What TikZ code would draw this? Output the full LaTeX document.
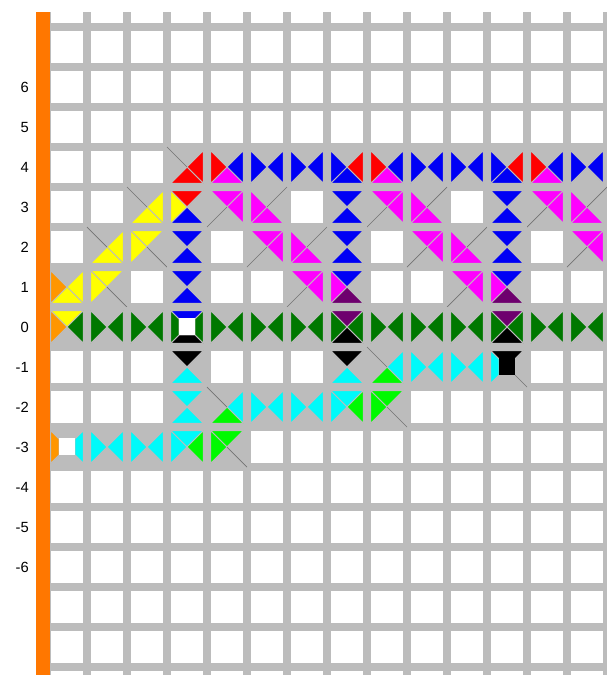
\documentclass[tikz,border=0pt]{standalone}
\usepackage{fontspec}
\setmainfont{Liberation Sans}

\definecolor{tilegrey}{RGB}{188,188,188}
\definecolor{seamgrey}{RGB}{115,115,115}
\definecolor{barorange}{RGB}{255,119,0}
\definecolor{worange}{RGB}{255,150,0}
\definecolor{wred}{RGB}{255,0,0}
\definecolor{wblue}{RGB}{0,0,245}
\definecolor{wmag}{RGB}{255,0,255}
\definecolor{wyel}{RGB}{255,255,0}
\definecolor{wgreen}{RGB}{0,120,0}
\definecolor{wlime}{RGB}{0,250,0}
\definecolor{wcyan}{RGB}{0,250,250}
\definecolor{wpurple}{RGB}{110,0,110}

\def\tilehalf{0.41}
\def\headhalf{0.2}
\def\nocol{none}

\def\seams#1#2#3#4#5{%
  \def\seamT{#1}\def\seamR{#2}\def\seamB{#3}\def\seamL{#4}%
  \ifx\seamT\nocol\ifx\seamL\nocol\draw[seam] (-#5,#5) -- (-.5,.5);\fi\fi
  \ifx\seamT\nocol\ifx\seamR\nocol\draw[seam] (#5,#5) -- (.5,.5);\fi\fi
  \ifx\seamB\nocol\ifx\seamR\nocol\draw[seam] (#5,-#5) -- (.5,-.5);\fi\fi
  \ifx\seamB\nocol\ifx\seamL\nocol\draw[seam] (-#5,-#5) -- (-.5,-.5);\fi\fi}

% #1,#2 cell; #3 top, #4 right, #5 bottom, #6 left
\newcommand{\wtile}[6]{%
  \begin{scope}[shift={(#1,#2)}]
    \fill[tilegrey] (-.5,-.5) rectangle (.5,.5);
    \filldraw[wedge, fill=#3] (-\tilehalf,\tilehalf) -- (\tilehalf,\tilehalf) -- (0,0) -- cycle;
    \filldraw[wedge, fill=#4] (\tilehalf,\tilehalf) -- (\tilehalf,-\tilehalf) -- (0,0) -- cycle;
    \filldraw[wedge, fill=#5] (\tilehalf,-\tilehalf) -- (-\tilehalf,-\tilehalf) -- (0,0) -- cycle;
    \filldraw[wedge, fill=#6] (-\tilehalf,-\tilehalf) -- (-\tilehalf,\tilehalf) -- (0,0) -- cycle;
    \seams{#3}{#4}{#5}{#6}{0}
  \end{scope}}

% same, with a centre square of colour #7
\newcommand{\htile}[7]{%
  \begin{scope}[shift={(#1,#2)}]
    \fill[tilegrey] (-.5,-.5) rectangle (.5,.5);
    \filldraw[wedge, fill=#3] (-\tilehalf,\tilehalf) -- (\tilehalf,\tilehalf) -- (\headhalf,\headhalf) -- (-\headhalf,\headhalf) -- cycle;
    \filldraw[wedge, fill=#4] (\tilehalf,\tilehalf) -- (\tilehalf,-\tilehalf) -- (\headhalf,-\headhalf) -- (\headhalf,\headhalf) -- cycle;
    \filldraw[wedge, fill=#5] (\tilehalf,-\tilehalf) -- (-\tilehalf,-\tilehalf) -- (-\headhalf,-\headhalf) -- (\headhalf,-\headhalf) -- cycle;
    \filldraw[wedge, fill=#6] (-\tilehalf,-\tilehalf) -- (-\tilehalf,\tilehalf) -- (-\headhalf,\headhalf) -- (-\headhalf,-\headhalf) -- cycle;
    \fill[#7] (-\headhalf,-\headhalf) rectangle (\headhalf,\headhalf+0.02);
    \seams{#3}{#4}{#5}{#6}{\headhalf}
  \end{scope}}

\begin{document}
\begin{tikzpicture}[
  wedge/.style={draw=tilegrey, line width=0.7pt, line join=bevel},
  seam/.style={draw=seamgrey, line width=0.5pt},
  cell/.style={fill=white},
  rowlab/.style={anchor=east, inner sep=0pt, font=\fontsize{10.5}{12}\selectfont}
]
\useasboundingbox (-1.675,-8.7) rectangle (13.5,8.175);

\begin{scope}
  \clip (-0.5,-8.7) rectangle (13.5,7.875);
  \fill[tilegrey] (-0.5,-8.7) rectangle (13.5,7.875);
  \foreach \i in {0,...,13}
    \foreach \k in {-9,...,8}
      \fill[cell] (\i-\tilehalf,\k-\tilehalf) rectangle (\i+\tilehalf,\k+\tilehalf);
\end{scope}

% row 4
\wtile{3}{4}{none}{wred}{wred}{none}
\foreach \i in {4,8,12} \wtile{\i}{4}{none}{wblue}{wmag}{wred};
\foreach \i in {5,6,9,10,13} \wtile{\i}{4}{none}{wblue}{none}{wblue};
\foreach \i in {7,11} \wtile{\i}{4}{none}{wred}{wblue}{wblue};

% rows 3 to 1
\wtile{2}{3}{none}{wyel}{wyel}{none}
\wtile{3}{3}{wred}{none}{wblue}{wyel}
\wtile{1}{2}{none}{wyel}{wyel}{none}
\wtile{2}{2}{wyel}{none}{none}{wyel}
\wtile{0}{1}{none}{wyel}{wyel}{worange}
\wtile{1}{1}{wyel}{none}{none}{wyel}
\foreach \i/\k in {4/3,8/3,12/3,5/2,9/2,13/2,6/1,10/1}
  \wtile{\i}{\k}{wmag}{wmag}{none}{none};
\foreach \i/\k in {5/3,9/3,13/3,6/2,10/2}
  \wtile{\i}{\k}{none}{none}{wmag}{wmag};
\foreach \i/\k in {7/3,11/3,3/2,7/2,11/2,3/1}
  \wtile{\i}{\k}{wblue}{none}{wblue}{none};
\foreach \i in {7,11} \wtile{\i}{1}{wblue}{none}{wpurple}{wmag};

% row 0
\wtile{0}{0}{wyel}{wgreen}{none}{worange}
\foreach \i in {1,2,4,5,6,8,9,10,12,13} \wtile{\i}{0}{none}{wgreen}{none}{wgreen};
\htile{3}{0}{wblue}{wgreen}{black}{wgreen}{white}
\foreach \i in {7,11} \wtile{\i}{0}{wpurple}{wgreen}{black}{wgreen};

% rows -1 to -3
\foreach \i in {3,7} \wtile{\i}{-1}{black}{none}{wcyan}{none};
\wtile{3}{-2}{wcyan}{none}{wcyan}{none}
\foreach \i/\k in {8/-1,4/-2} \wtile{\i}{\k}{none}{wcyan}{wlime}{none};
\foreach \i/\k in {9/-1,10/-1,5/-2,6/-2,1/-3,2/-3}
  \wtile{\i}{\k}{none}{wcyan}{none}{wcyan};
\foreach \i/\k in {7/-2,3/-3} \wtile{\i}{\k}{wcyan}{wlime}{none}{wcyan};
\foreach \i/\k in {8/-2,4/-3} \wtile{\i}{\k}{wlime}{none}{none}{wlime};
\htile{11}{-1}{black}{none}{none}{wcyan}{black}
\htile{0}{-3}{none}{wcyan}{none}{worange}{white}

\fill[barorange] (-0.775,-8.7) rectangle (-0.425,7.875);
\foreach \k in {6,...,-6}
  \node[rowlab] (row\k) at (-0.95,\k) {\k};
\end{tikzpicture}
\end{document}
